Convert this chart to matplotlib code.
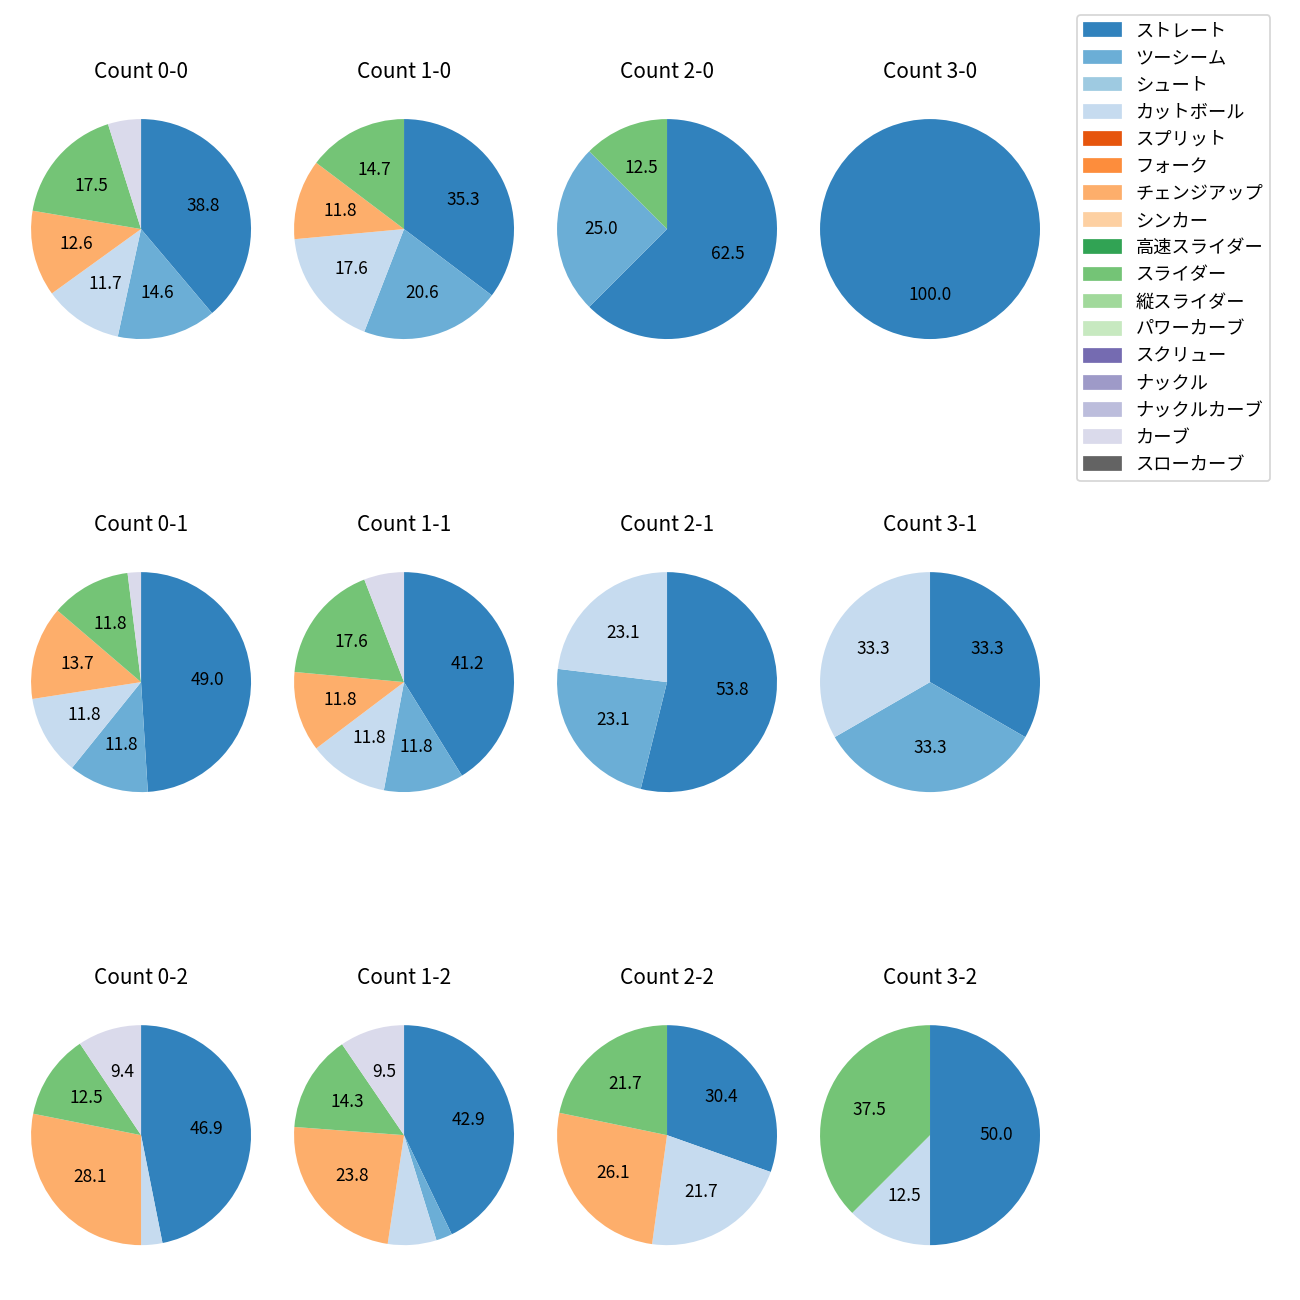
import matplotlib
matplotlib.use("Agg")
import matplotlib.pyplot as plt
from matplotlib.patches import Patch

plt.rcParams["font.family"] = ["Noto Sans CJK JP", "DejaVu Sans"]

# all pitch types shown in the legend, tab20c colours
PITCH_TYPES = [
    "ストレート", "ツーシーム", "シュート", "カットボール", "スプリット", "フォーク",
    "チェンジアップ", "シンカー", "高速スライダー", "スライダー", "縦スライダー",
    "パワーカーブ", "スクリュー", "ナックル", "ナックルカーブ", "カーブ", "スローカーブ",
]
PITCH_COLORS = [
    "#3182bd", "#6baed6", "#9ecae1", "#c6dbef", "#e6550d", "#fd8d3c",
    "#fdae6b", "#fdd0a2", "#31a354", "#74c476", "#a1d99b",
    "#c7e9c0", "#756bb1", "#9e9ac8", "#bcbddc", "#dadaeb", "#636363",
]

# pitch types that actually appear in the pies
USED_TYPES = ["ストレート", "ツーシーム", "カットボール", "チェンジアップ", "スライダー", "カーブ"]

# pitch counts per ball-strike count, in USED_TYPES order
COUNT_LABELS = [
    ["0-0", "1-0", "2-0", "3-0"],
    ["0-1", "1-1", "2-1", "3-1"],
    ["0-2", "1-2", "2-2", "3-2"],
]
counts_0_0 = [40, 15, 12, 13, 18, 5]
counts_1_0 = [12, 7, 6, 4, 5, 0]
counts_2_0 = [5, 2, 0, 0, 1, 0]
counts_3_0 = [1, 0, 0, 0, 0, 0]
counts_0_1 = [25, 6, 6, 7, 6, 1]
counts_1_1 = [7, 2, 2, 2, 3, 1]
counts_2_1 = [7, 3, 3, 0, 0, 0]
counts_3_1 = [1, 1, 1, 0, 0, 0]
counts_0_2 = [15, 0, 1, 9, 4, 3]
counts_1_2 = [18, 1, 3, 10, 6, 4]
counts_2_2 = [7, 0, 5, 6, 5, 0]
counts_3_2 = [4, 0, 1, 0, 3, 0]

PANEL_DATA = {
    "0-0": counts_0_0, "1-0": counts_1_0, "2-0": counts_2_0, "3-0": counts_3_0,
    "0-1": counts_0_1, "1-1": counts_1_1, "2-1": counts_2_1, "3-1": counts_3_1,
    "0-2": counts_0_2, "1-2": counts_1_2, "2-2": counts_2_2, "3-2": counts_3_2,
}

color_of = dict(zip(PITCH_TYPES, PITCH_COLORS))


def pct_label(pct):
    return f"{pct:.1f}" if pct >= 8 else ""


fig = plt.figure(figsize=(10.4, 10.4), dpi=125)

box = 0.2115
for i, row in enumerate(COUNT_LABELS):
    cy = 0.8238 - 0.3485 * i
    for j, label in enumerate(row):
        cx = 0.1085 + 0.2023 * j
        ax = fig.add_axes([cx - box / 2, cy - box / 2, box, box])
        vals = PANEL_DATA[label]
        sizes = [v for v in vals if v > 0]
        colors = [color_of[t] for t, v in zip(USED_TYPES, vals) if v > 0]
        ax.pie(sizes, colors=colors, startangle=90, counterclock=False,
               autopct=pct_label, textprops={"fontsize": 10})
        ax.set_title(f"Count {label}", fontsize=12, pad=8)

handles = [Patch(color=c, label=t) for t, c in zip(PITCH_TYPES, PITCH_COLORS)]
fig.legend(handles=handles, loc="upper left", bbox_to_anchor=(0.8285, 0.9885),
           borderaxespad=0, fontsize=10.5)

fig.savefig("out.png", dpi=125)
plt.close(fig)
